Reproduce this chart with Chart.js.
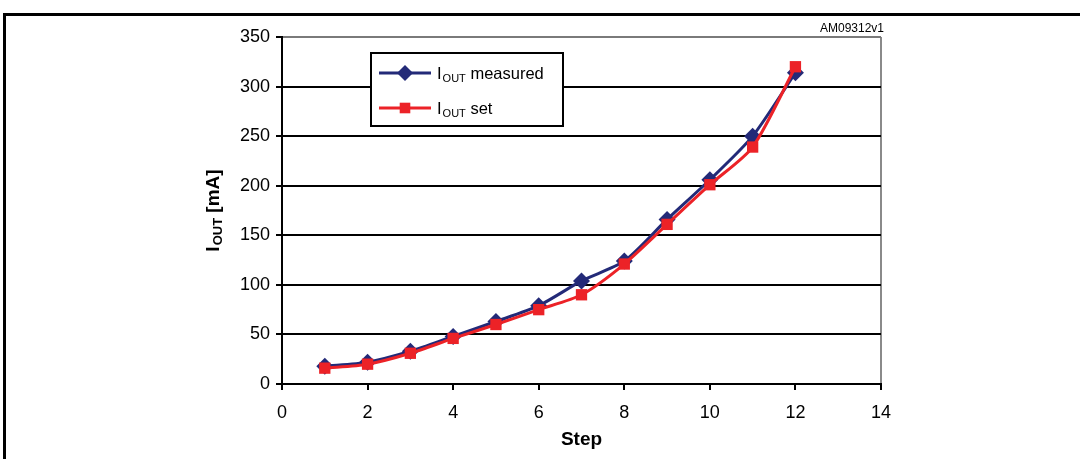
<!DOCTYPE html>
<html>
<head>
<meta charset="utf-8">
<script src="https://cdn.jsdelivr.net/npm/chart.js@4.4.1/dist/chart.umd.min.js"></script>
<style>
  html, body { margin: 0; padding: 0; background: #fff; overflow: hidden; }
  #wrap { position: relative; width: 1080px; height: 459px; }
  #frame { position: absolute; left: 3px; top: 13px; width: 1200px; height: 600px; border: 3px solid #000; box-sizing: border-box; }
  #myChart { position: absolute; left: 0; top: 0; }
</style>
</head>
<body>
<div id="wrap">
  <div id="frame"></div>
  <canvas id="myChart" width="1080" height="459"></canvas>
</div>
<script>
// values
const steps = [1, 2, 3, 4, 5, 6, 7, 8, 9, 10, 11, 12];
const ioutMeasured = [18, 22, 33, 48, 63, 79, 104, 124, 166, 206, 250, 314];
const ioutSet = [16, 20, 31, 46, 60, 75, 90, 121, 161, 201, 239, 320];
const xTicks = [0, 2, 4, 6, 8, 10, 12, 14];
const yTicks = [0, 50, 100, 150, 200, 250, 300, 350];

const navy = '#232a78';
const red = '#ec2227';
const font = "'Liberation Sans', Arial, sans-serif";

function pts(ys) {
    return steps.map((x, i) => ({x: x, y: ys[i]}));
}

// draws "I" + subscript "OUT" + rest at (x, y) on baseline
function subText(ctx, x, y, size, bold, rest) {
    let w = bold ? 'bold ' : '';
    ctx.font = w + size + 'px ' + font;
    ctx.fillText('I', x, y);
    let x1 = x + ctx.measureText('I').width + 1;
    ctx.font = w + Math.round(size * 0.68) + 'px ' + font;
    ctx.fillText('OUT', x1, y + size * 0.18);
    let x2 = x1 + ctx.measureText('OUT').width;
    ctx.font = w + size + 'px ' + font;
    ctx.fillText(rest, x2, y);
    return x2 + ctx.measureText(rest).width - x;
}

const extras = {
    id: 'extras',
    afterDatasetsDraw(chart) {
        let ctx = chart.ctx;
        let a = chart.chartArea;
        ctx.save();
        // legend box
        let lx = a.left + 89, ly = a.top + 16, lw = 192, lh = 73;
        ctx.fillStyle = '#fff';
        ctx.fillRect(lx, ly, lw, lh);
        ctx.lineWidth = 2;
        ctx.strokeStyle = '#000';
        ctx.strokeRect(lx, ly, lw, lh);
        let rows = [[navy, 'rectRot', ' measured', ly + 20], [red, 'rect', ' set', ly + 55]];
        rows.forEach(r => {
            ctx.strokeStyle = r[0];
            ctx.lineWidth = 3;
            ctx.beginPath();
            ctx.moveTo(lx + 8, r[3]);
            ctx.lineTo(lx + 60, r[3]);
            ctx.stroke();
            ctx.fillStyle = r[0];
            Chart.helpers.drawPoint(ctx, {pointStyle: r[1], radius: r[1] === 'rect' ? 7.5 : 8, borderWidth: 0}, lx + 34, r[3]);
            ctx.fillStyle = '#000';
            ctx.textBaseline = 'alphabetic';
            ctx.textAlign = 'left';
            subText(ctx, lx + 66, r[3] + 6, 16.5, false, r[2]);
        });
        ctx.restore();
    },
    afterDraw(chart) {
        let ctx = chart.ctx;
        let a = chart.chartArea;
        ctx.save();
        // y axis title with subscript
        ctx.fillStyle = '#000';
        ctx.textBaseline = 'alphabetic';
        ctx.textAlign = 'left';
        ctx.translate(219, (a.top + a.bottom) / 2);
        ctx.rotate(-Math.PI / 2);
        ctx.font = 'bold 19px ' + font;
        let tw = ctx.measureText('I').width;
        ctx.font = 'bold 13px ' + font;
        tw += ctx.measureText('OUT').width + 1;
        ctx.font = 'bold 19px ' + font;
        tw += ctx.measureText(' [mA]').width;
        subText(ctx, -tw / 2, 0, 19, true, ' [mA]');
        ctx.restore();
        // figure code
        ctx.save();
        ctx.fillStyle = '#000';
        ctx.font = '12px ' + font;
        ctx.textAlign = 'right';
        ctx.textBaseline = 'alphabetic';
        ctx.fillText('AM09312v1', a.right + 3, 32);
        ctx.restore();
    }
};

let ctx = document.getElementById('myChart').getContext('2d');
let myChart = new Chart(ctx, {
    type: 'line',
    data: {
        datasets: [{
            label: 'IOUT measured',
            data: pts(ioutMeasured),
            borderColor: navy,
            backgroundColor: navy,
            borderWidth: 3,
            pointStyle: 'rectRot',
            pointRadius: 8.5,
            pointBorderWidth: 0,
            tension: 0.25,
            order: 1
        }, {
            label: 'IOUT set',
            data: pts(ioutSet),
            borderColor: red,
            backgroundColor: red,
            borderWidth: 3,
            pointStyle: 'rect',
            pointRadius: 8,
            pointBorderWidth: 0,
            tension: 0.25,
            order: 0
        }]
    },
    options: {
        responsive: false,
        animation: false,
        layout: {
            padding: {left: 0, right: 199, top: 37, bottom: 8}
        },
        plugins: {
            legend: {display: false},
            tooltip: {enabled: false}
        },
        scales: {
            x: {
                type: 'linear',
                min: 0,
                max: 14,
                afterFit(scale) { scale.height = 67; },
                afterBuildTicks(scale) { scale.ticks = xTicks.map(v => ({value: v})); },
                border: {color: '#000', width: 2},
                grid: {
                    color: c => c.tick && c.tick.value === 14 ? '#8a8a8a' : 'rgba(0,0,0,0)',
                    lineWidth: 2,
                    tickColor: '#000',
                    tickLength: 6,
                    drawOnChartArea: true
                },
                ticks: {
                    color: '#000',
                    font: {family: font, size: 18},
                    padding: 12
                },
                title: {
                    display: true,
                    text: 'Step',
                    color: '#000',
                    font: {family: font, size: 19, weight: 'bold'},
                    padding: {top: 0, bottom: 0}
                }
            },
            y: {
                min: 0,
                max: 350,
                afterFit(scale) { scale.width = 282; },
                afterBuildTicks(scale) { scale.ticks = yTicks.map(v => ({value: v})); },
                border: {color: '#000', width: 2},
                grid: {
                    color: c => c.tick && c.tick.value === 350 ? '#7a7a7a' : '#000',
                    lineWidth: 2,
                    tickColor: '#000',
                    tickLength: 6
                },
                ticks: {
                    color: '#000',
                    font: {family: font, size: 18},
                    padding: 6
                }
            }
        }
    },
    plugins: [extras]
});
</script>
</body>
</html>
